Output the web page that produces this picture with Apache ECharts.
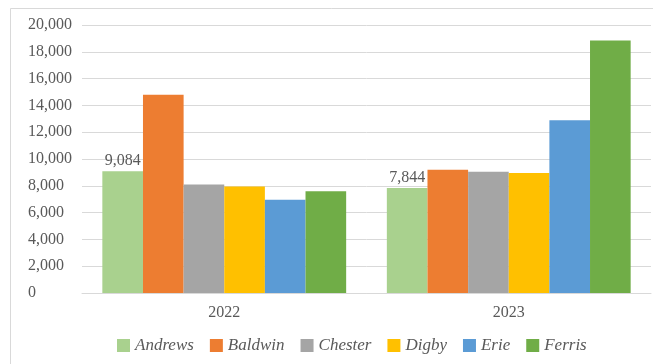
<!DOCTYPE html>
<html>
<head>
<meta charset="utf-8">
<script src="https://cdn.jsdelivr.net/npm/echarts@6/dist/echarts.min.js"></script>
<style>
  html, body { margin: 0; padding: 0; background: #fff; }
  #chart { width: 653px; height: 364px; }
</style>
</head>
<body>
<div id="chart"></div>
<script>
// Years on the category axis
const years = ['2022', '2023'];

// Company names and colours
const companies = ['Andrews', 'Baldwin', 'Chester', 'Digby', 'Erie', 'Ferris'];
const colors = ['#A9D18E', '#ED7D31', '#A5A5A5', '#FFC000', '#5B9BD5', '#70AD47'];

// Values per company, one entry per year
const andrews = [9084, 7844];
const baldwin = [14800, 9200];
const chester = [8100, 9050];
const digby = [7950, 8950];
const erie = [6950, 12900];
const ferris = [7600, 18850];

// Y-axis range
const yMin = 0;
const yMax = 20000;
const yStep = 2000;

const seriesValues = [andrews, baldwin, chester, digby, erie, ferris];
const textColor = '#595959';
const font = '"Liberation Serif", "Times New Roman", serif';

const series = companies.map((name, i) => ({
  name: name,
  type: 'bar',
  data: seriesValues[i],
  barGap: '0%',
  barCategoryGap: '14.3%',
  itemStyle: { color: colors[i] },
  label: i === 0 ? {
    show: true,
    position: 'top',
    distance: 2,
    color: textColor,
    fontFamily: font,
    fontSize: 16,
    formatter: p => p.value.toLocaleString('en-US')
  } : { show: false }
}));

const chart = echarts.init(document.getElementById('chart'));
chart.setOption({
  animation: false,
  backgroundColor: '#fff',
  graphic: [{
    type: 'polyline',
    shape: { points: [[10.5, 364], [10.5, 8.5], [653, 8.5]] },
    style: { stroke: '#D9D9D9', lineWidth: 1, fill: null },
    silent: true
  }],
  grid: { left: 82, right: 2, top: 25, bottom: 71, containLabel: false },
  legend: {
    data: companies,
    bottom: 5,
    left: 112,
    itemWidth: 13,
    itemHeight: 13,
    itemGap: 16,
    icon: 'rect',
    textStyle: { color: textColor, fontFamily: font, fontSize: 17, fontStyle: 'italic' }
  },
  xAxis: {
    type: 'category',
    data: years,
    axisLine: { lineStyle: { color: '#D9D9D9', width: 1 } },
    axisTick: { show: false },
    axisLabel: { color: textColor, fontFamily: font, fontSize: 16, margin: 12 }
  },
  yAxis: {
    type: 'value',
    min: yMin,
    max: yMax,
    interval: yStep,
    axisLine: { show: false },
    axisTick: { show: false },
    splitLine: { lineStyle: { color: '#D9D9D9', width: 1 } },
    axisLabel: {
      color: textColor, fontFamily: font, fontSize: 16,
      align: 'left', margin: 54,
      formatter: v => v.toLocaleString('en-US')
    }
  },
  series: series
});
</script>
</body>
</html>
